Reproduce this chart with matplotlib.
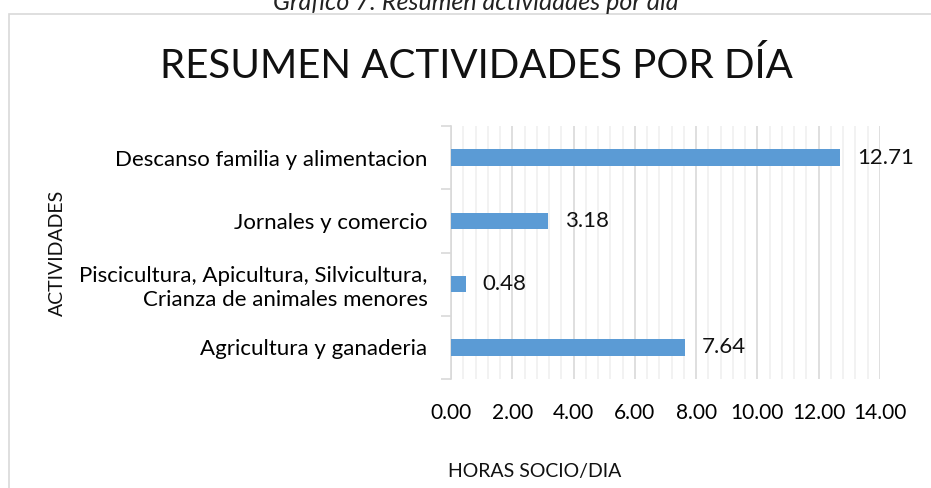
import matplotlib.pyplot as plt
from matplotlib.patches import Rectangle
from matplotlib.ticker import MultipleLocator

plt.rcParams['font.family'] = ['Lato', 'DejaVu Sans']

categorias = ['Agricultura y ganaderia',
              'Piscicultura, Apicultura, Silvicultura,\nCrianza de animales menores',
              'Jornales y comercio',
              'Descanso familia y alimentacion']
horas = [7.64, 0.48, 3.18, 12.71]
ticks_x = [0, 2, 4, 6, 8, 10, 12, 14]

W, H = 931, 488
fig = plt.figure(figsize=(W / 100, H / 100), dpi=100)

# caption cut at top and chart box
fig.text(476 / W, 1 - 3 / H, 'Gráfico 7: Resumen actividades por día', style='italic',
         fontsize=18, ha='center', va='center', color='#222222')
fig.add_artist(Rectangle((9 / W, -0.05), 1.0, 1 - 14 / H + 0.05, transform=fig.transFigure,
                         fill=False, edgecolor='#d9d9d9', linewidth=1.2))

ax = fig.add_axes([451 / W, 1 - 379 / H, (880 - 451) / W, (379 - 126) / H])
y = range(len(categorias))
ax.barh(y, horas, height=0.26, color='#5b9bd5', zorder=3)
for i, v in enumerate(horas):
    ax.text(v + 0.55, i, f'{v:.2f}', va='center', ha='left', fontsize=16, color='#111111')

ax.set_xlim(0, 14)
ax.set_ylim(-0.5, len(categorias) - 0.5)
ax.set_xticks(ticks_x)
ax.set_xticklabels([f'{t:.2f}' for t in ticks_x])
ax.xaxis.set_minor_locator(MultipleLocator(0.4))
ax.grid(axis='x', which='major', color='#d9d9d9', linewidth=1.2, zorder=0)
ax.grid(axis='x', which='minor', color='#f0f0f0', linewidth=1.2, zorder=0)
ax.tick_params(axis='x', which='both', length=0, pad=17, labelsize=15)

ax.set_yticks([i - 0.5 for i in range(len(categorias) + 1)], minor=False)
ax.set_yticklabels([])
ax.set_yticks(list(y), minor=True)
ax.set_yticklabels(categorias, minor=True, fontsize=16, ha='right', linespacing=1.25)
ax.tick_params(axis='y', which='major', length=7, color='#d9d9d9', width=1.2)
ax.tick_params(axis='y', which='minor', length=0, pad=17)

for s in ['top', 'right', 'bottom']:
    ax.spines[s].set_visible(False)
ax.spines['left'].set_color('#d9d9d9')
ax.spines['left'].set_linewidth(1.2)

fig.text(476 / W, 1 - 66 / H, 'RESUMEN ACTIVIDADES POR DÍA', fontsize=29,
         ha='center', va='center', color='#111111')
fig.text(448 / W, 1 - 472 / H, 'HORAS SOCIO/DIA', fontsize=14, ha='left', va='center',
         color='#111111')
fig.text(57 / W, 1 - 253 / H, 'ACTIVIDADES', fontsize=14, rotation=90, ha='center',
         va='center', color='#111111')

fig.savefig('out.png', dpi=100)
